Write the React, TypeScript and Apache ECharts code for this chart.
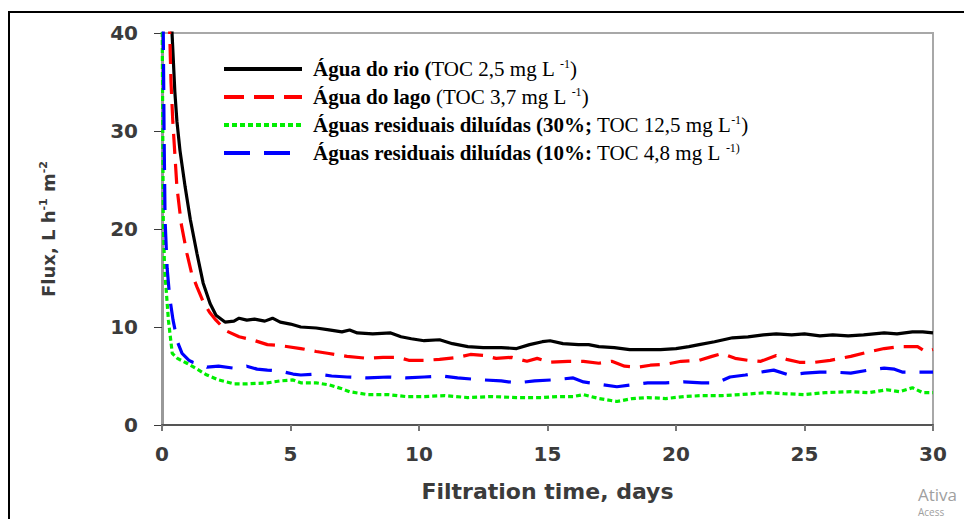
import React, { useEffect, useRef } from "react";
import * as echarts from "echarts";

const seriesNames = [
  "Água do rio",
  "Água do lago",
  "Águas residuais diluídas 30%",
  "Águas residuais diluídas 10%",
];

const rioDays = [0.35,0.39,0.5,0.58,0.7,0.9,1.1,1.36,1.6,1.87,2.1,2.45,2.8,3.0,3.3,3.6,4.0,4.3,4.6,5.0,5.4,6.0,6.5,7.0,7.3,7.6,8.2,8.9,9.3,9.7,10.2,10.8,11.3,11.9,12.5,13.2,13.8,14.3,14.8,15.1,15.6,16.2,16.6,17.0,17.6,18.2,18.9,19.4,20.0,20.5,20.9,21.5,22.2,22.8,23.4,23.9,24.5,25.0,25.6,26.1,26.7,27.3,28.1,28.6,29.2,29.6,30];
const rioFlux = [45,40,34,31,28,24.3,21,17.5,14.5,12.4,11.2,10.5,10.6,10.9,10.7,10.8,10.6,10.9,10.5,10.3,10.0,9.9,9.7,9.5,9.7,9.4,9.3,9.4,9.0,8.8,8.6,8.7,8.3,8.0,7.9,7.9,7.8,8.2,8.5,8.6,8.3,8.2,8.2,8.0,7.9,7.7,7.7,7.7,7.8,8.0,8.2,8.5,8.9,9.0,9.2,9.3,9.2,9.3,9.1,9.2,9.1,9.2,9.4,9.3,9.5,9.5,9.4];

const lagoDays = [0.28,0.3,0.35,0.42,0.58,0.75,0.97,1.15,1.36,1.6,1.85,2.1,2.5,3.0,3.5,4.1,4.6,5.4,6.0,6.5,7.2,8.0,8.6,9.2,9.6,10.2,10.8,11.5,12.0,12.5,13.0,13.6,14.2,14.6,15.1,15.8,16.4,17.0,17.5,18.0,18.5,19.0,19.6,20.2,20.9,21.4,21.8,22.3,22.8,23.3,23.9,24.3,24.8,25.4,26.0,26.8,27.4,28.1,28.7,29.4,29.7,30];
const lagoFlux = [45,40,35,31,24.3,20.5,17.5,15.5,14.1,12.6,11.5,10.7,9.6,9.0,8.7,8.2,8.1,7.8,7.5,7.3,7.0,6.8,6.9,6.9,6.6,6.6,6.7,6.9,7.2,7.1,6.8,6.9,6.5,6.8,6.4,6.5,6.5,6.3,6.5,6.0,5.9,6.1,6.2,6.5,6.6,7.0,7.3,6.8,6.6,6.5,7.1,6.7,6.4,6.4,6.6,7.0,7.4,7.8,8.0,8.0,7.5,7.7];

const res30Days = [0.0,0.01,0.03,0.05,0.1,0.25,0.4,0.6,0.97,1.3,1.75,2.2,2.8,3.3,4.1,4.6,5.1,5.4,6.0,6.5,7.0,7.3,8.0,8.8,9.5,10.2,11.0,11.9,12.8,13.8,14.8,15.4,16.0,16.4,17.0,17.7,18.3,18.9,19.6,20.3,21.0,21.8,22.5,23.5,24.2,25.0,25.8,26.8,27.5,28.2,28.7,29.2,29.6,30];
const res30Flux = [45,40,30,20.9,16,10.7,7.3,6.8,6.3,5.8,5.1,4.6,4.2,4.2,4.3,4.5,4.6,4.3,4.3,4.1,3.7,3.4,3.1,3.1,2.9,2.9,3.0,2.8,2.9,2.8,2.8,2.9,2.9,3.1,2.7,2.4,2.7,2.8,2.7,2.9,3.0,3.0,3.1,3.3,3.2,3.1,3.3,3.4,3.3,3.6,3.4,3.8,3.3,3.3];

const res10Days = [0.04,0.05,0.08,0.12,0.2,0.3,0.43,0.6,0.78,1.05,1.2,1.5,1.75,2.2,2.8,3.3,3.7,4.1,4.6,5.1,5.4,6.0,6.6,7.2,8.0,8.8,9.5,10.2,10.9,11.5,12.5,13.2,13.8,14.5,15.2,16.0,16.4,16.9,17.7,18.3,18.9,19.6,20.3,21.0,21.6,22.1,22.7,23.3,23.8,24.4,25.0,25.6,26.1,26.8,27.5,28.1,28.5,28.8,29.4,30];
const res10Flux = [45,40,30,20.9,16,13,10.7,8.5,7.3,6.6,6.4,6.2,5.9,6.0,5.8,6.0,5.7,5.6,5.5,5.2,5.1,5.2,5.0,4.9,4.8,4.9,4.8,4.9,5.0,4.8,4.6,4.5,4.3,4.5,4.6,4.8,4.4,4.2,3.9,4.1,4.3,4.3,4.4,4.3,4.3,4.9,5.1,5.4,5.6,5.1,5.3,5.4,5.4,5.3,5.6,5.8,5.7,5.4,5.4,5.4];

const xTicks = [0, 5, 10, 15, 20, 25, 30];
const yTicks = [0, 10, 20, 30, 40];

const legendRich: Record<string, string> = {
  "Água do rio": "{b|Água do rio }{b|(}{r|TOC 2,5 mg L }{s|-1}{r|)}",
  "Água do lago": "{b|Água do lago }{r|(TOC 3,7 mg L }{s|-1}{r|)}",
  "Águas residuais diluídas 30%": "{b|Águas residuais diluídas (30%;}{r| TOC 12,5 mg L}{s|-1}{r|)}",
  "Águas residuais diluídas 10%": "{b|Águas residuais diluídas (10%:}{r| TOC 4,8 mg L }{s|-1)}",
};

const zip = (a: number[], b: number[]) => a.map((v, i) => [v, b[i]]);

export default function App() {
  const ref = useRef<HTMLDivElement>(null);
  useEffect(() => {
    if (!ref.current) return;
    const chart = echarts.init(ref.current, undefined, { renderer: "svg" });
    const serif = "Liberation Serif, Times New Roman, serif";
    const sans = "DejaVu Sans, Liberation Sans, Arial, sans-serif";
    const lbl = {
      fontFamily: sans,
      fontSize: 20,
      fontWeight: "bold" as const,
      color: "#3b3b3b",
    };
    const mk = (name: string, d: number[][], color: string, type: any) => ({
      name,
      type: "line",
      data: d,
      showSymbol: false,
      symbol: "none",
      clip: true,
      lineStyle: { color, width: 3.2, type },
      itemStyle: { color },
    });
    chart.setOption({
      animation: false,
      backgroundColor: "#ffffff",
      grid: {
        left: 162,
        right: 31,
        top: 33,
        bottom: 94,
        show: true,
        borderColor: "#a8a8a8",
        borderWidth: 2,
        backgroundColor: "transparent",
      },
      legend: {
        orient: "vertical",
        left: 217,
        top: 53,
        itemWidth: 78,
        itemHeight: 14,
        itemGap: 6,
        selectedMode: false,
        data: seriesNames,
        itemStyle: { opacity: 0 },
        lineStyle: { width: 4 },
        formatter: (n: string) => legendRich[n],
        textStyle: {
          fontFamily: serif,
          fontSize: 21,
          color: "#000",
          lineHeight: 22,
          padding: [0, 0, 0, 6],
          rich: {
            b: { fontFamily: serif, fontSize: 21, fontWeight: "bold", color: "#000" },
            r: { fontFamily: serif, fontSize: 21, color: "#000" },
            s: { fontFamily: serif, fontSize: 12, color: "#000", verticalAlign: "top", padding: [0, 0, 9, 0] },
          },
        },
      },
      xAxis: {
        type: "value",
        min: 0,
        max: 30,
        interval: 5,
        name: "Filtration time, days",
        nameLocation: "middle",
        nameGap: 55,
        nameTextStyle: { ...lbl, fontSize: 22 },
        axisLine: { show: true, lineStyle: { color: "#555", width: 2 } },
        axisTick: { show: true, inside: false, length: 6, lineStyle: { color: "#777", width: 2 } },
        axisLabel: { ...lbl, margin: 19, formatter: (v: number) => (xTicks.includes(v) ? String(v) : "") },
        splitLine: { show: false },
      },
      yAxis: {
        type: "value",
        min: 0,
        max: 40,
        interval: 10,
        name: "{n|Flux, L h}{s|-1}{n| m}{s|-2}",
        nameLocation: "middle",
        nameGap: 104,
        nameRotate: 90,
        nameTextStyle: {
          rich: {
            n: { fontFamily: sans, fontSize: 18, fontWeight: "bold", color: "#3b3b3b" },
            s: { fontFamily: sans, fontSize: 11, fontWeight: "bold", color: "#3b3b3b", verticalAlign: "top", padding: [0, 0, 9, 0] },
          },
        },
        axisLine: { show: true, lineStyle: { color: "#999", width: 3 } },
        axisTick: { show: true, inside: false, length: 8, lineStyle: { color: "#3a3a3a", width: 1 } },
        axisLabel: { ...lbl, margin: 24, formatter: (v: number) => (yTicks.includes(v) ? String(v) : "") },
        splitLine: { show: false },
      },
      graphic: [
        {
          type: "rect",
          shape: { x: 9, y: 12, width: 1000, height: 600 },
          style: { fill: "none", stroke: "#000", lineWidth: 2 },
          silent: true,
        },
        {
          type: "text",
          x: 918,
          y: 486,
          style: { text: "Ativa", fontFamily: "Open Sans, Noto Sans, sans-serif", fontSize: 17, fill: "#a0a0a0" },
          silent: true,
        },
        {
          type: "text",
          x: 918,
          y: 507,
          style: { text: "Acess", fontFamily: "Open Sans, Noto Sans, sans-serif", fontSize: 10, fill: "#a0a0a0" },
          silent: true,
        },
      ],
      series: [
        mk(seriesNames[0], zip(rioDays, rioFlux), "#000000", "solid"),
        mk(seriesNames[1], zip(lagoDays, lagoFlux), "#ff0000", [20, 10]),
        mk(seriesNames[2], zip(res30Days, res30Flux), "#00ee00", [5, 3]),
        mk(seriesNames[3], zip(res10Days, res10Flux), "#0000ff", [26, 14]),
      ],
    });
    return () => chart.dispose();
  }, []);
  return <div ref={ref} style={{ width: 964, height: 519, position: "absolute", left: 0, top: 0 }} />;
}
